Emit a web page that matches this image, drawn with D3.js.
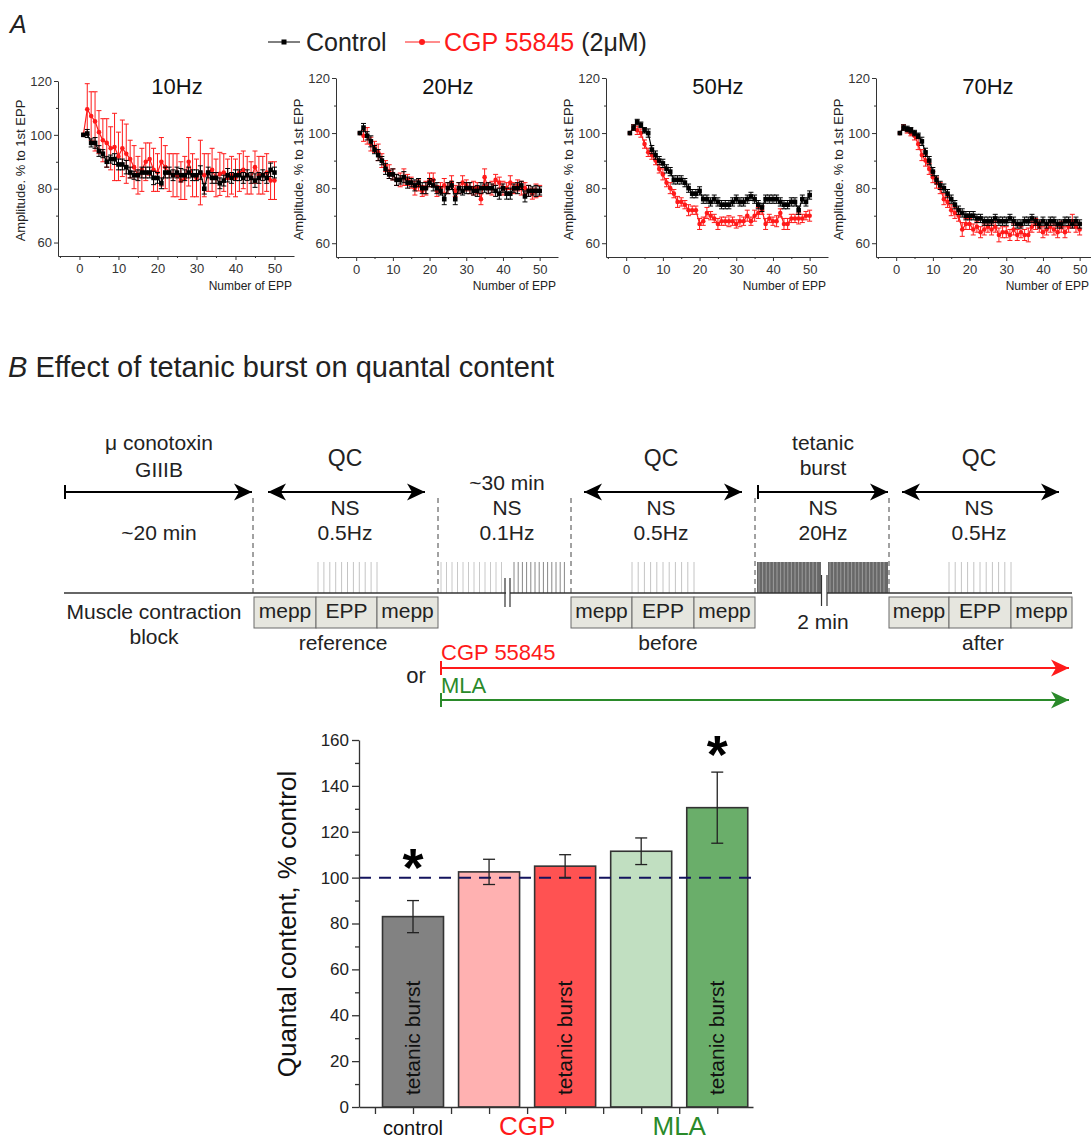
<!DOCTYPE html>
<html>
<head>
<meta charset="utf-8">
<script src="https://cdn.jsdelivr.net/npm/d3@7"></script>
<style>
  body { margin: 0; background: #fff; }
  svg { display: block; font-family: "Liberation Sans", Arial, sans-serif; }
</style>
</head>
<body>
<svg id="fig" width="1091" height="1140"></svg>
<script>
// ---- panel A data: amplitude, % of 1st EPP, stimuli 1..50 ----
const eppNumbers = d3.range(1, 51)

const ctrl10 = [100,100.5,97,97,94,93,90,91,91,89,89,88,86,85,85,86,86,86,84,84,82,86,86,85,86,85,85,86,85,85,86,80,86,84,84,82,83,85,84,85,85,84,85,84,83,84,85,84,87,86]
const ctrl10Err = [0,1.5,1.5,2,2,1.5,2,1.5,2,2,2,2.5,2,1.5,2,2,2,2,2.5,2,2,2,2,2,2,2.5,2,2,2,2,2.5,2,2,2,2,2,2,2.5,2,2,2,2,2,2,2.5,2,2,2,2.5,2]
const cgp10 = [100,109.5,107,105,101,98,97,95,95.5,92,95,93,91,88,85,87,90,91,87,86,90,88,86,85,85,83,84,90,85,84,86,85,86,87,84,85.5,86,84,85,84,86,87,85,84,88,85,85,86,83,83]
const cgp10Err = [0,9.5,9,11,8,8,9,8,12.5,9,10.5,11,7,8,7,8,7,6,8,7,9,8,7,8,8,7,8,9,8,7,12,8,7,8,7,8,7,7,7,7,7,7,7,6,6,7,7,7,7,7]

const ctrl20 = [100,102,99,97,94,92,90,87,85,85,83,83,84,82,82,81,82,80,80,82,81,80,79,76,80,81,76,80,79,80,80,79,79,80,80,80,80,79,78,80,78,78,80,80,81,77,79,79,79,79]
const ctrl20Err = [0,1.5,1.5,2,1.5,2,1.5,2,1.5,2,2,1.5,2,2,1.5,2,1.5,2,2,1.5,2,2,1.5,2,2,1.5,2,2,1.5,2,2,1.5,2,2,1.5,2,1.5,2,2,1.5,2,2,1.5,2,1.5,2,2,1.5,2,1.5]
const cgp20 = [100,99,99,96,95,93,90,88,86,85,83,83,84,83,82,80,81,79,80,83,83,79,80,81,80,82,79,80,82,81,80,80,80,76,84,80,80,83,82,80,80,82,80,81,80,80,79,78,79,79]
const cgp20Err = [0,2,3,2.5,2,3,2.5,2,2.5,2,2,2.5,3,2,2,2.5,2,2,2.5,2.5,2.5,2,2,2.5,2,2.5,2,2,2.5,2,2,2.5,2,2,3,2,2.5,2,2,2.5,2,2.5,2,2,2.5,2,2,2,2.5,2]

const ctrl50 = [100,102,104,103,101,100,94,92,90,89,87,86,83,83,83,82,80,78,78,79,76,76,75,76,75,74,74,74,75,76,75,75,76,77,76,74,73,76,76,76,76,75,74,74,75,75,72,76,75,77.5]
const ctrl50Err = [0,1,1,1,1,1.5,1.5,1.5,1.5,1.5,1.5,1.5,1.5,1.5,1.5,1.5,1.5,1.5,1.5,1.5,1.5,1.5,1.5,1.5,1.5,1.5,1.5,1.5,1.5,1.5,1.5,1.5,1.5,1.5,1.5,1.5,1.5,1.5,1.5,1.5,1.5,1.5,1.5,1.5,1.5,1.5,1.5,1.5,1.5,1.5]
const cgp50 = [100,102,101,100,96,93,92,90,87,85,82,80,78,75,75,74,72,72,72,67,68,71,70,69,67,68,68,68,68,67,68,68,70,68,70,71,72,67,69,68,68,71,67,67,69,69,69,69,70,70]
const cgp50Err = [0,1,1.5,1.5,1.5,1.5,1.5,1.5,1.5,2,1.5,2,1.5,2,1.5,1.5,2,1.5,1.5,2,1.5,2,1.5,1.5,2,1.5,1.5,2,1.5,1.5,2,1.5,2,1.5,2,2,1.5,2,1.5,1.5,2,1.5,2,2,1.5,1.5,2,1.5,1.5,2]

const ctrl70 = [100,102,101.5,101,100,99,97,93,90,86,83,81,80,78,76,74,72,71,70,70,70,69,69,68,68,68,69,68,68,68,69,68,67,67,68,68,69,68,67,68,67,68,68,67,67,68,68,67,68,67]
const ctrl70Err = [0,1,1,1,1,1,1.5,1.5,1.5,1.5,1.5,1.5,1.5,1.5,1.5,1.5,1.5,1.5,1.5,1.5,1.5,1.5,1.5,1.5,1.5,1.5,1.5,1.5,1.5,1.5,1.5,1.5,1.5,1.5,1.5,1.5,1.5,1.5,1.5,1.5,1.5,1.5,1.5,1.5,1.5,1.5,1.5,1.5,1.5,1.5]
const cgp70 = [100,102,101,100,99,96,92,90,87,84,82,80,76,75,72,71,70,65,67,67,65,66,64,65,66,65,66,63,64,64,63,65,63,64,63,63,66,67,66,64,65,66,65,64,66,64,66,68,66,65]
const cgp70Err = [0,1,1,1,1.5,2,2,2,2,2,2,2,2,2,2,2,2,2.5,2,2,2,2,2,2,2,2,2,2.5,2,2,2,2,2,2,2,2.5,2,2,2,2,2,2,2,2,2,2,2,2.5,2,2]

const freqLabels = ['10Hz', '20Hz', '50Hz', '70Hz']
const ampTicks = [60, 80, 100, 120]
const eppTicks = [0, 10, 20, 30, 40, 50]

// ---- panel B bar data: quantal content, % control ----
const barMeans = [83, 102.5, 105, 111.5, 130.5]
const barErrs = [7, 5.5, 5, 5.8, 15.5]
const barTetanic = [true, false, true, false, true]
const groupNames = ['control', 'CGP', 'MLA']
const groupCenters = [1, 2.5, 4.5]
const starBars = [1, 5]
const starLevels = [110, 159]
const qcTicks = [0, 20, 40, 60, 80, 100, 120, 140, 160]

const svg = d3.select('#fig')
const red = '#ff1a1a', green = '#2a8a2a', ink = '#222'

// ---------- A ----------
svg.append('text').attr('x', 10).attr('y', 33).attr('font-size', 25)
  .attr('font-style', 'italic').attr('fill', ink).text('A')

// legend
const lg = svg.append('g')
lg.append('line').attr('x1', 268).attr('x2', 300).attr('y1', 42).attr('y2', 42).attr('stroke', '#000')
lg.append('rect').attr('x', 281.5).attr('y', 39.5).attr('width', 5).attr('height', 5).attr('fill', '#000')
lg.append('text').attr('x', 306).attr('y', 51).attr('font-size', 25).attr('fill', ink).text('Control')
lg.append('line').attr('x1', 405).attr('x2', 440).attr('y1', 42).attr('y2', 42).attr('stroke', red)
lg.append('circle').attr('cx', 422).attr('cy', 42).attr('r', 3).attr('fill', red)
const lt = lg.append('text').attr('x', 444).attr('y', 51).attr('font-size', 25)
lt.append('tspan').attr('fill', red).text('CGP 55845')
lt.append('tspan').attr('fill', ink).text(' (2μM)')

const panels = [
  { ctrl: ctrl10, ctrlErr: ctrl10Err, cgp: cgp10, cgpErr: cgp10Err },
  { ctrl: ctrl20, ctrlErr: ctrl20Err, cgp: cgp20, cgpErr: cgp20Err },
  { ctrl: ctrl50, ctrlErr: ctrl50Err, cgp: cgp50, cgpErr: cgp50Err },
  { ctrl: ctrl70, ctrlErr: ctrl70Err, cgp: cgp70, cgpErr: cgp70Err }
]
const panelBox = [
  { left: 58, right: 294, top: 81, bottom: 256 },
  { left: 336, right: 558, top: 78, bottom: 257 },
  { left: 606, right: 828, top: 78, bottom: 257 },
  { left: 876, right: 1098, top: 78, bottom: 257 }
]

panels.forEach((p, k) => {
  const b = panelBox[k]
  const x = d3.scaleLinear().domain([-5.5, 55]).range([b.left, b.right])
  const y = d3.scaleLinear().domain([55, 120]).range([b.bottom, b.top])
  const g = svg.append('g')

  g.append('g').attr('transform', `translate(${b.left},0)`)
    .call(d3.axisLeft(y).tickValues(ampTicks).tickSize(4).tickSizeOuter(0).tickPadding(2))
  g.append('g').attr('transform', `translate(${b.left},0)`)
    .call(d3.axisLeft(y).tickValues([70, 90, 110]).tickSize(2).tickFormat(''))
    .select('.domain').remove()
  g.append('g').attr('transform', `translate(0,${b.bottom})`)
    .call(d3.axisBottom(x).tickValues(eppTicks).tickSize(4).tickSizeOuter(0).tickPadding(4))
  g.append('g').attr('transform', `translate(0,${b.bottom})`)
    .call(d3.axisBottom(x).tickValues([-5, 5, 15, 25, 35, 45]).tickSize(2).tickFormat(''))
    .select('.domain').remove()
  g.selectAll('.tick text').attr('font-size', 13).attr('fill', '#333')
    .attr('font-family', '"Liberation Sans", Arial, sans-serif')
  g.selectAll('.domain, .tick line').attr('stroke', '#333')

  g.append('text').attr('transform', `translate(${b.left - 33},${(b.top + b.bottom) / 2 + 2}) rotate(-90)`)
    .attr('text-anchor', 'middle').attr('font-size', 13).attr('fill', ink).text('Amplitude. % to 1st EPP')
  g.append('text').attr('x', Math.min(b.right - 2, 1089)).attr('y', 290).attr('text-anchor', 'end')
    .attr('font-size', 12).attr('fill', ink).text('Number of EPP')
  g.append('text').attr('x', x(25)).attr('y', 94).attr('text-anchor', 'middle')
    .attr('font-size', 22).attr('fill', '#111').text(freqLabels[k])

  const series = [
    { vals: p.cgp, errs: p.cgpErr, color: red, marker: 'circle' },
    { vals: p.ctrl, errs: p.ctrlErr, color: '#000', marker: 'square' }
  ]
  series.forEach(s => {
    const pts = eppNumbers.map((n, i) => ({ n, v: s.vals[i], e: s.errs[i] }))
    const eg = g.append('g').attr('stroke', s.color).attr('stroke-width', 1)
    pts.filter(d => d.e > 0).forEach(d => {
      eg.append('line').attr('x1', x(d.n)).attr('x2', x(d.n)).attr('y1', y(d.v - d.e)).attr('y2', y(d.v + d.e))
      eg.append('line').attr('x1', x(d.n) - 2.5).attr('x2', x(d.n) + 2.5).attr('y1', y(d.v - d.e)).attr('y2', y(d.v - d.e))
      eg.append('line').attr('x1', x(d.n) - 2.5).attr('x2', x(d.n) + 2.5).attr('y1', y(d.v + d.e)).attr('y2', y(d.v + d.e))
    })
    g.append('path').datum(pts).attr('fill', 'none').attr('stroke', s.color).attr('stroke-width', 1.2)
      .attr('d', d3.line().x(d => x(d.n)).y(d => y(d.v)))
    if (s.marker === 'circle') {
      g.selectAll(null).data(pts).join('circle').attr('cx', d => x(d.n)).attr('cy', d => y(d.v))
        .attr('r', 2.3).attr('fill', s.color)
    } else {
      g.selectAll(null).data(pts).join('rect').attr('x', d => x(d.n) - 2.3).attr('y', d => y(d.v) - 2.3)
        .attr('width', 4.6).attr('height', 4.6).attr('fill', s.color)
    }
  })
})

// ---------- B schematic ----------
const bt = svg.append('text').attr('x', 8).attr('y', 377).attr('font-size', 29).attr('fill', ink)
bt.append('tspan').attr('font-style', 'italic').text('B')
bt.append('tspan').text(' Effect of tetanic burst on quantal content')

const sg = svg.append('g')
function txt(x, y, s, size = 21, color = ink, anchor = 'middle') {
  return sg.append('text').attr('x', x).attr('y', y + size * 0.35).attr('font-size', size)
    .attr('text-anchor', anchor).attr('fill', color).text(s)
}
function head(tx, ty, dir, color) {
  const L = 18, W = 8.5, N = 5
  sg.append('polygon').attr('fill', color)
    .attr('points', [[tx, ty], [tx - dir * L, ty - W], [tx - dir * (L - N), ty], [tx - dir * L, ty + W]].join(' '))
}
function arrow(x1, x2, y, color, startHead, startBar, w = 2) {
  sg.append('line').attr('x1', x1).attr('x2', x2).attr('y1', y).attr('y2', y).attr('stroke', color).attr('stroke-width', w)
  head(x2, y, 1, color)
  if (startHead) head(x1, y, -1, color)
  if (startBar) sg.append('line').attr('x1', x1).attr('x2', x1).attr('y1', y - 7).attr('y2', y + 7)
    .attr('stroke', color).attr('stroke-width', w)
}
function stims(x1, x2, step, color, y1 = 562, y2 = 593, w = 1) {
  d3.range(x1, x2 + 0.01, step).forEach(xx => {
    sg.append('line').attr('x1', xx).attr('x2', xx).attr('y1', y1).attr('y2', y2).attr('stroke', color).attr('stroke-width', w)
  })
}

// arrows
arrow(65, 252, 492, '#000', false, true)
arrow(268, 425, 492, '#000', true, false)
arrow(584, 742, 492, '#000', true, false)
arrow(758, 888, 492, '#000', false, true)
arrow(902, 1059, 492, '#000', true, false)

// labels above line
txt(159, 443, 'μ conotoxin'); txt(159, 470, 'GIIIB'); txt(159, 533, '~20 min')
txt(345, 458, 'QC', 23); txt(345, 508, 'NS'); txt(345, 533, '0.5Hz')
txt(507, 483, '~30 min'); txt(507, 508, 'NS'); txt(507, 533, '0.1Hz')
txt(661, 458, 'QC', 23); txt(661, 508, 'NS'); txt(661, 533, '0.5Hz')
txt(823, 443, 'tetanic'); txt(823, 468, 'burst'); txt(823, 508, 'NS'); txt(823, 533, '20Hz')
txt(979, 458, 'QC', 23); txt(979, 508, 'NS'); txt(979, 533, '0.5Hz')

// dashed separators
;[253, 438, 571, 755, 889].forEach(xx => {
  sg.append('line').attr('x1', xx).attr('x2', xx).attr('y1', 498).attr('y2', 593)
    .attr('stroke', '#444').attr('stroke-width', 1).attr('stroke-dasharray', '5,4')
})

// stimulus traces
stims(318, 377, 5.9, '#c4c4c4')
stims(632, 694, 6.2, '#c4c4c4')
stims(949, 1011, 6.2, '#c4c4c4')
stims(441, 502, 5.5, '#c8c8c8')
stims(514, 568, 4.2, '#888')
sg.append('rect').attr('x', 757).attr('y', 562).attr('width', 64).attr('height', 31).attr('fill', '#686868')
sg.append('rect').attr('x', 828).attr('y', 562).attr('width', 60).attr('height', 31).attr('fill', '#686868')
stims(759, 820, 3.6, '#9c9c9c')
stims(830, 887, 3.6, '#9c9c9c')

// baseline with breaks
sg.append('line').attr('x1', 64).attr('x2', 1072).attr('y1', 593).attr('y2', 593).attr('stroke', '#333').attr('stroke-width', 1.3)
sg.append('rect').attr('x', 506).attr('y', 590).attr('width', 4).attr('height', 6).attr('fill', '#fff')
sg.append('rect').attr('x', 822).attr('y', 558).attr('width', 5).attr('height', 38).attr('fill', '#fff')
;[[505, 578, 607], [510, 578, 607], [821.5, 575, 606], [827, 575, 606]].forEach(([xx, a, b2]) => {
  sg.append('line').attr('x1', xx).attr('x2', xx).attr('y1', a).attr('y2', b2).attr('stroke', '#333').attr('stroke-width', 1.2)
})

// mepp / EPP boxes
;[[254, 316, 377, 438], [571, 632, 694, 755], [889, 949, 1011, 1072]].forEach(c => {
  const names = ['mepp', 'EPP', 'mepp']
  for (let i = 0; i < 3; i++) {
    sg.append('rect').attr('x', c[i]).attr('y', 597).attr('width', c[i + 1] - c[i]).attr('height', 31)
      .attr('fill', '#e6e6df').attr('stroke', '#6a6a6a').attr('stroke-width', 1)
    txt((c[i] + c[i + 1]) / 2, 611, names[i])
  }
})
txt(154, 612, 'Muscle contraction'); txt(154, 637, 'block')
txt(343, 643, 'reference'); txt(668, 643, 'before'); txt(823, 622, '2 min'); txt(983, 643, 'after')

// drug application lines
txt(416, 675, 'or', 22)
txt(441, 652, 'CGP 55845', 22, red, 'start')
arrow(441, 1069, 668, red, false, true, 2)
txt(441, 685, 'MLA', 22, green, 'start')
arrow(441, 1069, 700, green, false, true, 2)

// ---------- B bar chart ----------
const bx = d3.scaleLinear().domain([0.29, 5.47]).range([359, 753])
const by = d3.scaleLinear().domain([0, 160]).range([1107, 740])
const barFill = ['#828282', '#ffb1b1', '#ff5252', '#c1dfc1', '#6aae6a']
const barW = 61
const bg = svg.append('g')

bg.selectAll(null).data(barMeans).join('rect')
  .attr('x', (d, i) => bx(i + 1) - barW / 2).attr('y', d => by(d))
  .attr('width', barW).attr('height', d => by(0) - by(d))
  .attr('fill', (d, i) => barFill[i]).attr('stroke', '#333').attr('stroke-width', 1.6)

barMeans.forEach((d, i) => {
  if (!barTetanic[i]) return
  bg.append('text').attr('transform', `translate(${bx(i + 1) + 7},1095) rotate(-90)`)
    .attr('font-size', 21).attr('fill', '#111').text('tetanic burst')
})

// dashed reference at 100%
bg.append('line').attr('x1', 359).attr('x2', 753).attr('y1', by(100)).attr('y2', by(100))
  .attr('stroke', '#14145e').attr('stroke-width', 2).attr('stroke-dasharray', '12,8')

// error bars
barMeans.forEach((m, i) => {
  const cx = bx(i + 1), lo = by(m - barErrs[i]), hi = by(m + barErrs[i])
  bg.append('line').attr('x1', cx).attr('x2', cx).attr('y1', lo).attr('y2', hi).attr('stroke', '#222').attr('stroke-width', 1.3)
  ;[lo, hi].forEach(yy => bg.append('line').attr('x1', cx - 6).attr('x2', cx + 6).attr('y1', yy).attr('y2', yy)
    .attr('stroke', '#222').attr('stroke-width', 1.3))
})

// significance stars
starBars.forEach((b, i) => {
  bg.append('text').attr('x', bx(b)).attr('y', by(starLevels[i]) + 31).attr('text-anchor', 'middle')
    .attr('font-size', 54).attr('font-weight', 'bold').attr('fill', '#000').text('*')
})

// axes
const yAx = bg.append('g').attr('transform', 'translate(359,0)')
  .call(d3.axisLeft(by).tickValues(qcTicks).tickSize(7).tickSizeOuter(0).tickPadding(3))
bg.append('g').attr('transform', 'translate(359,0)')
  .call(d3.axisLeft(by).tickValues([10, 30, 50, 70, 90, 110, 130, 150]).tickSize(4).tickFormat(''))
  .select('.domain').remove()
bg.append('g').attr('transform', 'translate(0,1107)')
  .call(d3.axisBottom(bx).tickValues([1, 2, 3, 4, 5]).tickSize(7).tickSizeOuter(0).tickFormat(''))
bg.append('g').attr('transform', 'translate(0,1107)')
  .call(d3.axisBottom(bx).tickValues([0.5, 1.5, 2.5, 3.5, 4.5]).tickSize(7).tickFormat(''))
  .select('.domain').remove()
bg.selectAll('.domain, .tick line').attr('stroke', '#333').attr('stroke-width', 1.3)
yAx.selectAll('.tick text').attr('font-size', 17).attr('fill', '#222')
  .attr('font-family', '"Liberation Sans", Arial, sans-serif')

bg.append('text').attr('transform', 'translate(296,924) rotate(-90)').attr('text-anchor', 'middle')
  .attr('font-size', 26).attr('fill', '#111').text('Quantal content, % control')

const groupColor = ['#111', red, green]
const groupSize = [20, 26, 26]
groupNames.forEach((name, i) => {
  bg.append('text').attr('x', bx(groupCenters[i])).attr('y', 1135).attr('text-anchor', 'middle')
    .attr('font-size', groupSize[i]).attr('fill', groupColor[i]).text(name)
})
</script>
</body>
</html>
